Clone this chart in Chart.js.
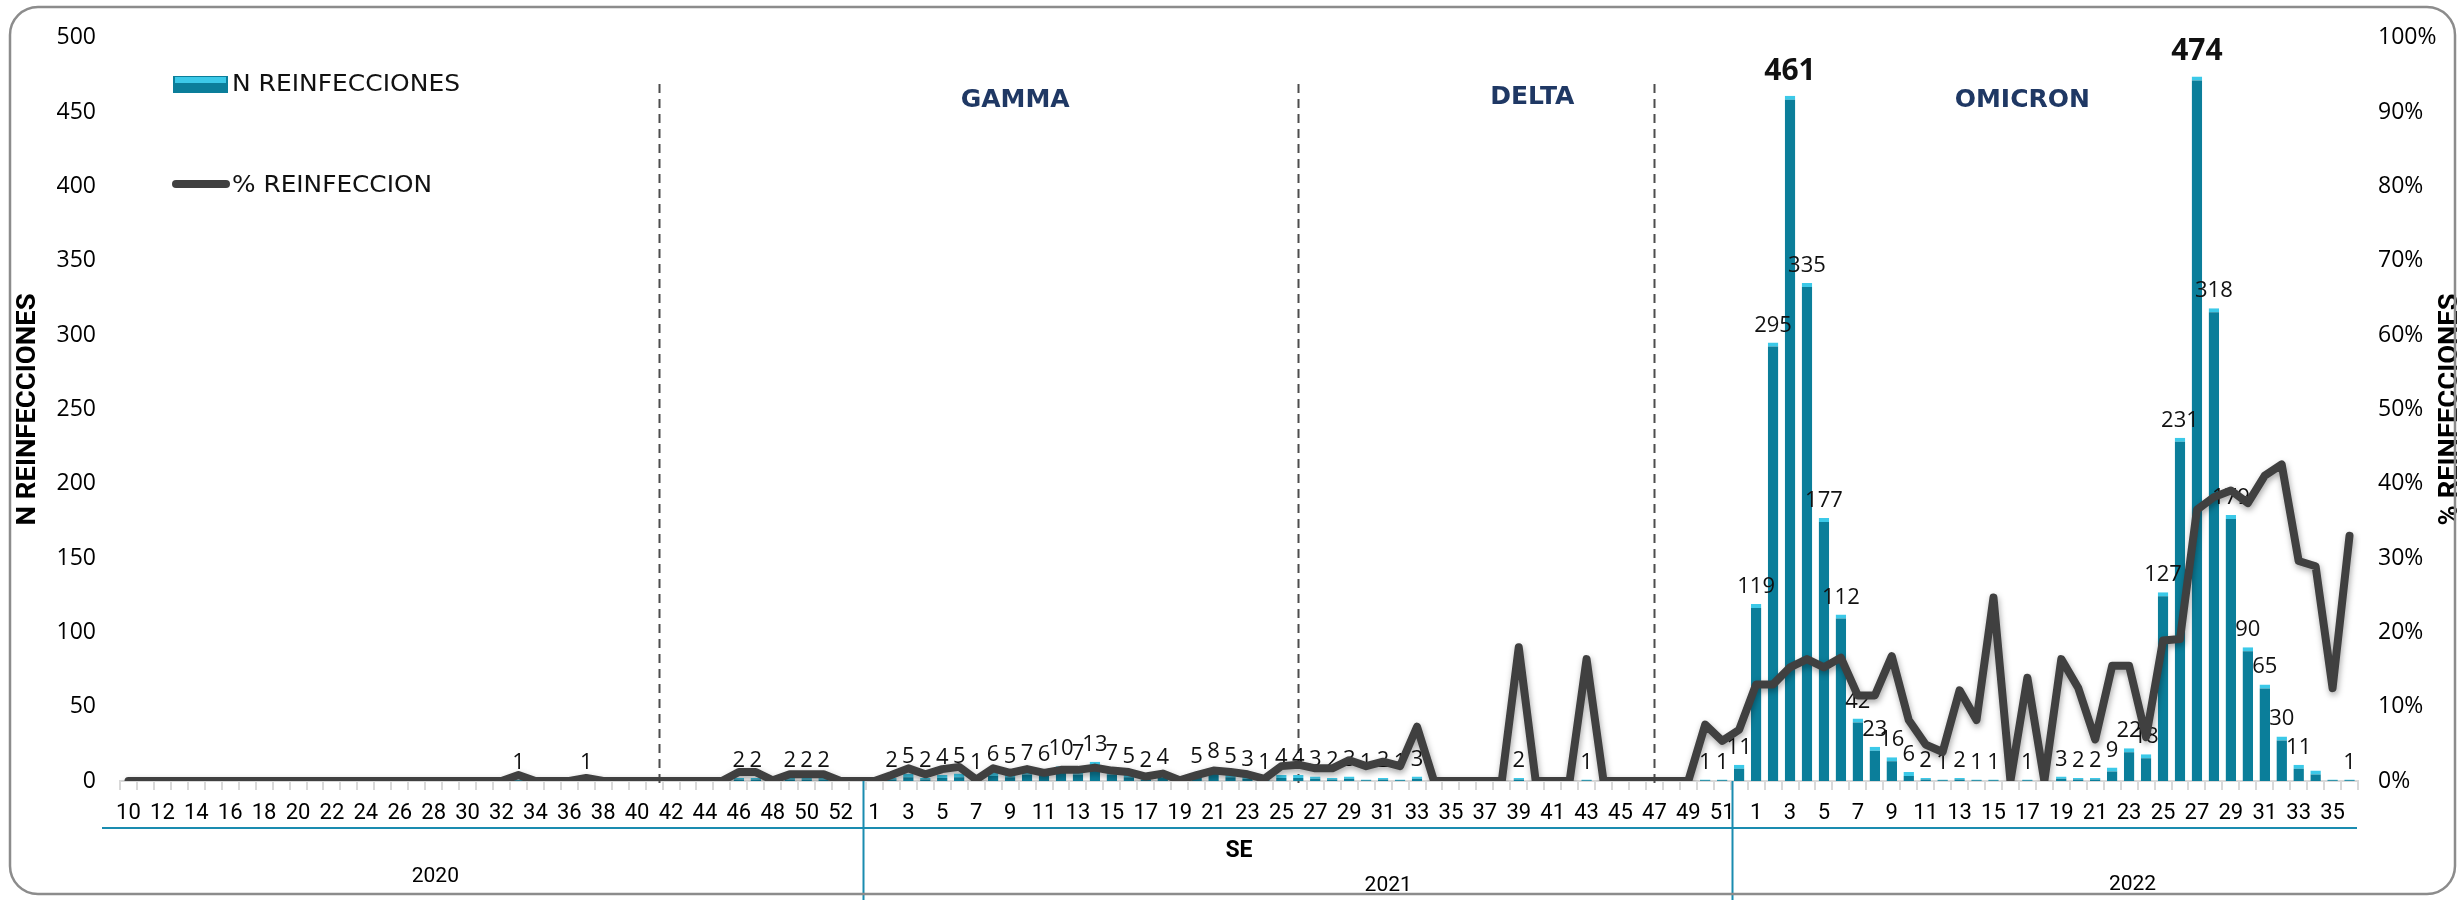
<!DOCTYPE html>
<html>
<head>
<meta charset="utf-8">
<script src="https://cdn.jsdelivr.net/npm/chart.js@4.4.0/dist/chart.umd.min.js"></script>
<style>
  html, body { margin: 0; padding: 0; background: #fff; }
</style>
</head>
<body>
<canvas id="reinfChart" width="2463" height="900"></canvas>
<script>
// semanas epidemiologicas (SE) por año
const weeks2020 = [10,11,12,13,14,15,16,17,18,19,20,21,22,23,24,25,26,27,28,29,30,31,32,33,34,35,36,37,38,39,40,41,42,43,44,45,46,47,48,49,50,51,52,53];
const weeks2021 = [1,2,3,4,5,6,7,8,9,10,11,12,13,14,15,16,17,18,19,20,21,22,23,24,25,26,27,28,29,30,31,32,33,34,35,36,37,38,39,40,41,42,43,44,45,46,47,48,49,50,51,52];
const weeks2022 = [1,2,3,4,5,6,7,8,9,10,11,12,13,14,15,16,17,18,19,20,21,22,23,24,25,26,27,28,29,30,31,32,33,34,35,36];
const years = ['2020', '2021', '2022'];

// N reinfecciones por semana
const reinf2020 = [0,0,0,0,0,0,0,0,0,0, 0,0,0,0,0,0,0,0,0,0, 0,0,0,1,0,0,0,1,0,0, 0,0,0,0,0,0,2,2,0,2, 2,2,0,0];
const reinf2021 = [0,2,5,2,4,5,1,6,5,7, 6,10,7,13,7,5,2,4,0,5, 8,5,3,1,4,4,3,2,3,1, 2,1,3,0,0,0,0,0,2,0, 0,0,1,0,0,0,0,0,0,1, 1,11];
const reinf2022 = [119,295,461,335,177,112,42,23,16,6, 2,1,2,1,1,0,1,0,3,2, 2,9,22,18,127,231,474,318,179,90, 65,30,11,7,1,1];

// % reinfeccion por semana
const pct2020 = [0,0,0,0,0,0,0,0,0,0, 0,0,0,0,0,0,0,0,0,0, 0,0,0,0.8,0,0,0,0.4,0,0, 0,0,0,0,0,0,1.2,1.2,0.1,0.9, 0.9,0.9,0,0];
const pct2021 = [0,0.8,1.7,0.9,1.6,1.9,0.2,1.7,1.1,1.6, 1.1,1.5,1.5,1.8,1.4,1.2,0.6,1.0,0.1,0.8, 1.4,1.2,0.9,0.3,2.0,2.2,1.7,1.7,2.8,2.0, 2.6,2.0,7.3,0,0,0,0,0,18.0,0, 0,0,16.4,0,0,0,0,0,0,7.6, 5.4,6.9];
const pct2022 = [13.0,13.0,15.3,16.4,15.3,16.6,11.5,11.5,16.8,8.2, 4.9,3.9,12.2,8.2,24.7,0,13.9,0,16.4,12.5, 5.6,15.5,15.5,5.9,18.9,19.1,36.5,38.2,39.1,37.4, 41.1,42.6,29.6,28.9,12.5,33.0];

// variantes
const variants = ['GAMMA', 'DELTA', 'OMICRON'];

const weekLabels = [...weeks2020, ...weeks2021, ...weeks2022].map(String);
const reinfAll = [...reinf2020, ...reinf2021, ...reinf2022];
const pctAll = [...pct2020, ...pct2021, ...pct2022];

// layout (category index positions)
const variantBreaks = [31.3, 69, 90];
const variantLabelAt = [52.3, 82.8, 111.7];
const yearBreaks = [43.3, 94.6];
const yearLabelAt = [[18.1, 877], [74.3, 886], [118.2, 885]];
const noLabel = [129, 130];

const FONT_NUM = '"Open Sans", "Noto Sans", sans-serif';
const FONT_AXIS = 'Roboto, "Liberation Sans", sans-serif';
const FONT_WIDE = '"DejaVu Sans", sans-serif';

const BAR_COLOR = '#0b7e9a';
const BAR_TOP = '#3cc9e8';
const LINE_COLOR = '#404040';
const NAVY = '#1f3864';
const SEP_BLUE = '#1a8cb0';

function roundRect(ctx, x, y, w, h, r) {
    ctx.beginPath();
    ctx.moveTo(x + r, y);
    ctx.arcTo(x + w, y, x + w, y + h, r);
    ctx.arcTo(x + w, y + h, x, y + h, r);
    ctx.arcTo(x, y + h, x, y, r);
    ctx.arcTo(x, y, x + w, y, r);
    ctx.closePath();
}

// text squeezed/stretched to a given length
function fitText(ctx, text, x, y, len, angle) {
    ctx.save();
    ctx.translate(x, y);
    ctx.rotate(angle);
    const w = ctx.measureText(text).width;
    ctx.scale(len / w, 1);
    ctx.fillText(text, 0, 0);
    ctx.restore();
}

const decor = {
    id: 'decor',
    beforeDatasetsDraw(chart) {
        const {ctx, chartArea, scales: {x}} = chart;
        ctx.save();
        ctx.strokeStyle = '#4d4d4d';
        ctx.lineWidth = 2;
        ctx.setLineDash([9, 6]);
        variantBreaks.forEach(p => {
            const px = Math.round(x.getPixelForValue(p)) + 0.5;
            ctx.beginPath();
            ctx.moveTo(px, 84);
            ctx.lineTo(px, chartArea.bottom + 8);
            ctx.stroke();
        });
        ctx.restore();
    },
    beforeDatasetDraw(chart, args) {
        if (args.meta.type !== 'line') return;
        const ctx = chart.ctx;
        ctx.save();
        ctx.shadowColor = 'rgba(0,0,0,0.35)';
        ctx.shadowBlur = 6;
        ctx.shadowOffsetX = 1;
        ctx.shadowOffsetY = 3;
    },
    afterDatasetDraw(chart, args) {
        const ctx = chart.ctx;
        if (args.meta.type === 'line') {
            ctx.restore();
            return;
        }
        // data labels above the bars
        const values = chart.data.datasets[args.index].data;
        ctx.save();
        ctx.fillStyle = '#111';
        ctx.textAlign = 'center';
        ctx.textBaseline = 'alphabetic';
        args.meta.data.forEach((bar, i) => {
            const v = values[i];
            if (!v || noLabel.includes(i)) return;
            const big = v >= 400;
            ctx.font = big ? `bold 30px ${FONT_NUM}` : `22px ${FONT_NUM}`;
            ctx.fillText(String(v), bar.x, bar.y - (big ? 16 : 11));
        });
        ctx.restore();
    },
    afterDraw(chart) {
        const {ctx, chartArea, scales: {x}} = chart;
        ctx.save();

        // variant names
        ctx.fillStyle = NAVY;
        ctx.font = `bold 25px ${FONT_WIDE}`;
        ctx.textAlign = 'center';
        ctx.textBaseline = 'middle';
        variants.forEach((v, i) => ctx.fillText(v, x.getPixelForValue(variantLabelAt[i]), i === 1 ? 97 : 100));

        // axis titles
        ctx.fillStyle = '#000';
        ctx.font = `bold 25px ${FONT_AXIS}`;
        const midY = (chartArea.top + chartArea.bottom) / 2;
        fitText(ctx, 'N REINFECCIONES', 29, midY, 232, -Math.PI / 2);
        fitText(ctx, '% REINFECCIONES', 2451, midY, 232, -Math.PI / 2);

        // legend
        const ds = chart.data.datasets;
        ctx.fillStyle = BAR_COLOR;
        ctx.fillRect(173, 76, 55, 17);
        ctx.fillStyle = BAR_TOP;
        ctx.fillRect(175, 77, 51, 6);
        ctx.strokeStyle = LINE_COLOR;
        ctx.lineWidth = 8;
        ctx.lineCap = 'round';
        ctx.beginPath();
        ctx.moveTo(176, 184);
        ctx.lineTo(226, 184);
        ctx.stroke();
        ctx.fillStyle = '#111';
        ctx.textAlign = 'left';
        ctx.font = `23px ${FONT_WIDE}`;
        fitText(ctx, ds[1].label, 232, 85, 228, 0);
        fitText(ctx, ds[0].label, 232, 186, 200, 0);

        // year separators under the axis
        ctx.strokeStyle = SEP_BLUE;
        ctx.lineWidth = 2;
        ctx.lineCap = 'butt';
        ctx.beginPath();
        ctx.moveTo(102, 828);
        ctx.lineTo(2357, 828);
        yearBreaks.forEach(p => {
            const px = Math.round(x.getPixelForValue(p)) + 0.5;
            ctx.moveTo(px, chartArea.bottom);
            ctx.lineTo(px, 900);
        });
        ctx.stroke();

        // axis caption and years
        ctx.fillStyle = '#000';
        ctx.textAlign = 'center';
        ctx.font = `bold 23px ${FONT_AXIS}`;
        ctx.fillText('SE', x.getPixelForValue(65.5), 851);
        ctx.font = `21px ${FONT_AXIS}`;
        years.forEach((y, i) => ctx.fillText(y, x.getPixelForValue(yearLabelAt[i][0]), yearLabelAt[i][1]));

        // outer frame
        ctx.strokeStyle = '#8c8c8c';
        ctx.lineWidth = 2.5;
        roundRect(ctx, 10, 7, 2445, 887, 28);
        ctx.stroke();
        ctx.restore();
    }
};

const ctx = document.getElementById('reinfChart');

new Chart(ctx, {
    type: 'bar',
    data: {
        labels: weekLabels,
        datasets: [{
            type: 'line',
            label: '% REINFECCION',
            data: pctAll,
            yAxisID: 'yPct',
            borderColor: LINE_COLOR,
            borderWidth: 8,
            borderJoinStyle: 'round',
            borderCapStyle: 'round',
            pointRadius: 0,
            tension: 0,
            order: 0
        }, {
            type: 'bar',
            label: 'N REINFECCIONES',
            data: reinfAll,
            yAxisID: 'yN',
            backgroundColor: BAR_COLOR,
            borderColor: BAR_TOP,
            borderWidth: {top: 4, left: 0, right: 0, bottom: 0},
            barPercentage: 0.62,
            categoryPercentage: 1,
            order: 1
        }]
    },
    options: {
        responsive: false,
        animation: false,
        devicePixelRatio: 1,
        layout: {
            padding: {top: 35, left: 0, right: 0, bottom: 0}
        },
        plugins: {
            legend: {display: false},
            tooltip: {enabled: false}
        },
        scales: {
            x: {
                grid: {
                    display: true,
                    drawOnChartArea: false,
                    drawTicks: true,
                    tickLength: 9,
                    color: '#d9d9d9',
                    lineWidth: 2,
                    offset: true
                },
                border: {display: true, color: '#d9d9d9', width: 2},
                ticks: {
                    autoSkip: false,
                    maxRotation: 0,
                    minRotation: 0,
                    padding: 10,
                    color: '#000',
                    font: {family: FONT_AXIS, size: 22},
                    callback: (v, i) => (i % 2 === 0 ? weekLabels[i] : '')
                },
                afterFit: s => { s.height = 119; }
            },
            yN: {
                position: 'left',
                min: 0,
                max: 500,
                ticks: {
                    stepSize: 50,
                    padding: 24,
                    color: '#000',
                    font: {family: FONT_NUM, size: 23}
                },
                grid: {display: false, drawTicks: false},
                border: {display: false},
                afterFit: s => { s.width = 120; }
            },
            yPct: {
                position: 'right',
                min: 0,
                max: 100,
                ticks: {
                    stepSize: 10,
                    padding: 20,
                    color: '#000',
                    font: {family: FONT_NUM, size: 23},
                    callback: v => v + '%'
                },
                grid: {display: false, drawTicks: false},
                border: {display: false},
                afterFit: s => { s.width = 105; }
            }
        }
    },
    plugins: [decor]
});
</script>
</body>
</html>
